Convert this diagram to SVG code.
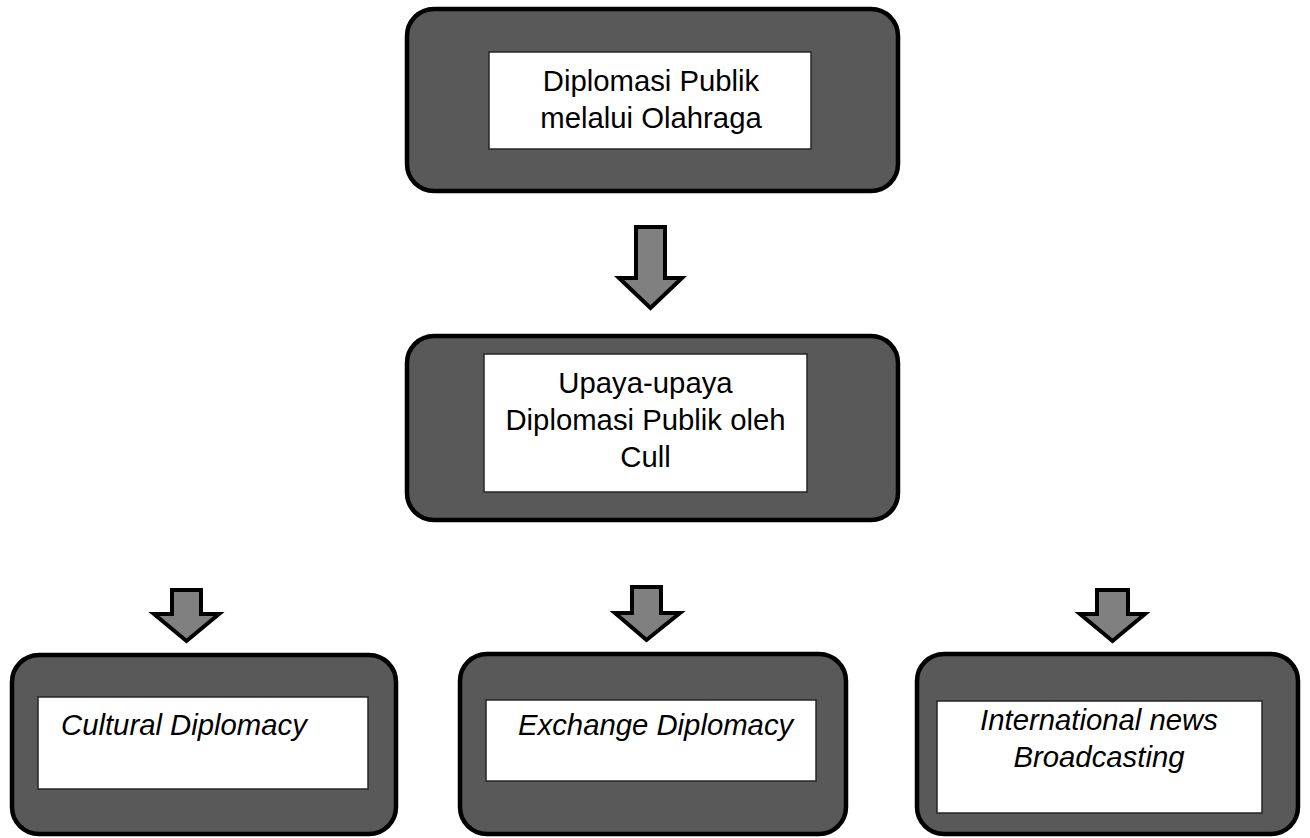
<svg xmlns="http://www.w3.org/2000/svg" width="1310" height="838" viewBox="0 0 1310 838">
<style>
.outer{fill:#595959;stroke:#000;stroke-width:4.5}
.inner{fill:#fff;stroke:#262626;stroke-width:1.5}
.t{font-family:"Liberation Sans",Arial,sans-serif;font-size:29.3px;fill:#000;text-anchor:middle}
.ti{font-family:"Liberation Sans",Arial,sans-serif;font-size:29.3px;fill:#000;font-style:italic}
.arr{fill:#808080;stroke:#000;stroke-width:4;stroke-linejoin:miter}
</style>
<rect width="1310" height="838" fill="#fff"/>
<g id="connectors">
<polygon class="arr" points="636,227 665,227 665,278 682,278 650.5,308 619,278 636,278"/>
<polygon class="arr" points="172,590 201,590 201,614 219,614 186.5,641 154,614 172,614"/>
<polygon class="arr" points="632,587 661,587 661,613 680,613 646.5,640 615,613 632,613"/>
<polygon class="arr" points="1097,590 1128,590 1128,614 1145,614 1112.5,641 1080,614 1097,614"/>
</g>
<g id="node-top">
<rect class="outer" x="407" y="9" width="491" height="182" rx="27"/>
<rect class="inner" x="489" y="52" width="322" height="97"/>
<text class="t" x="651" y="91">Diplomasi Publik</text>
<text class="t" x="651" y="128">melalui Olahraga</text>
</g>
<g id="node-middle">
<rect class="outer" x="407" y="336" width="491" height="184" rx="27"/>
<rect class="inner" x="484" y="354" width="323" height="138"/>
<text class="t" x="645.5" y="393">Upaya-upaya</text>
<text class="t" x="645.5" y="430">Diplomasi Publik oleh</text>
<text class="t" x="645.5" y="467">Cull</text>
</g>
<g id="node-cultural">
<rect class="outer" x="12" y="655" width="384" height="179" rx="27"/>
<rect class="inner" x="38" y="697" width="330" height="92"/>
<text class="ti" x="61" y="735">Cultural Diplomacy</text>
</g>
<g id="node-exchange">
<rect class="outer" x="460" y="654" width="386" height="180" rx="27"/>
<rect class="inner" x="486" y="700" width="330" height="81"/>
<text class="ti" x="518" y="735">Exchange Diplomacy</text>
</g>
<g id="node-broadcasting">
<rect class="outer" x="917" y="654" width="381" height="180" rx="27"/>
<rect class="inner" x="937" y="701" width="325" height="112"/>
<text class="t" x="1099" y="730" font-style="italic">International news</text>
<text class="t" x="1099" y="767" font-style="italic">Broadcasting</text>
</g>
</svg>
